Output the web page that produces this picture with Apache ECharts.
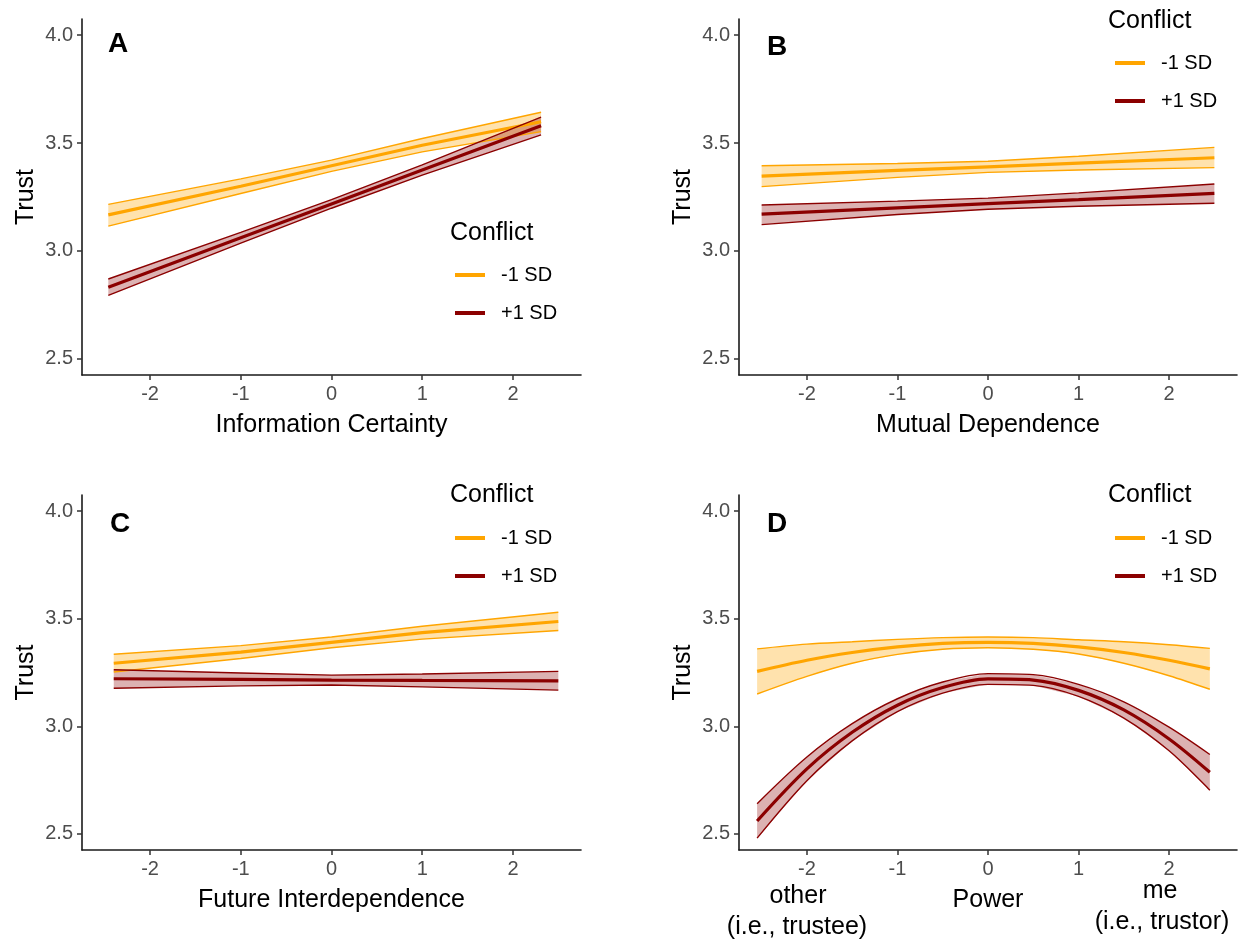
<!DOCTYPE html>
<html>
<head>
<meta charset="utf-8">
<script src="https://cdn.jsdelivr.net/npm/echarts@6/dist/echarts.min.js"></script>
<style>
  html, body { margin: 0; padding: 0; background: #fff; }
  #chart { width: 1239px; height: 941px; }
</style>
</head>
<body>
<div id="chart"></div>
<script>
const xTicks = [-2, -1, 0, 1, 2];
const yTicks = [2.5, 3.0, 3.5, 4.0];
const groups = ["-1 SD", "+1 SD"];

// A: Information Certainty
const xA = [-2.46, -1, 0, 1, 2.31];
const aMinusFit = [3.167, 3.300, 3.395, 3.490, 3.599];
const aMinusLo = [3.115, 3.266, 3.369, 3.459, 3.553];
const aMinusHi = [3.216, 3.334, 3.421, 3.521, 3.643];
const aPlusFit = [2.832, 3.061, 3.218, 3.375, 3.580];
const aPlusLo = [2.794, 3.036, 3.198, 3.351, 3.538];
const aPlusHi = [2.870, 3.086, 3.238, 3.399, 3.620];

// B: Mutual Dependence
const xB = [-2.5, -1, 0, 1, 2.5];
const bMinusFit = [3.347, 3.373, 3.390, 3.407, 3.432];
const bMinusLo = [3.298, 3.341, 3.364, 3.375, 3.386];
const bMinusHi = [3.395, 3.405, 3.416, 3.439, 3.480];
const bPlusFit = [3.171, 3.200, 3.219, 3.238, 3.267];
const bPlusLo = [3.122, 3.169, 3.193, 3.207, 3.221];
const bPlusHi = [3.213, 3.231, 3.245, 3.269, 3.310];

// C: Future Interdependence
const xC = [-2.4, -1, 0, 1, 2.5];
const cMinusFit = [3.293, 3.345, 3.390, 3.435, 3.487];
const cMinusLo = [3.252, 3.315, 3.365, 3.405, 3.445];
const cMinusHi = [3.335, 3.375, 3.415, 3.465, 3.530];
const cPlusFit = [3.221, 3.218, 3.215, 3.213, 3.211];
const cPlusLo = [3.177, 3.188, 3.192, 3.183, 3.168];
const cPlusHi = [3.263, 3.248, 3.238, 3.243, 3.255];

// D: Power
const xD = [-2.55, -2, -1.5, -1, -0.5, 0, 0.5, 1, 1.5, 2, 2.45];
const dMinusFit = [3.255, 3.307, 3.343, 3.369, 3.385, 3.390, 3.385, 3.369, 3.343, 3.307, 3.267];
const dMinusLo = [3.150, 3.232, 3.293, 3.334, 3.358, 3.365, 3.358, 3.336, 3.293, 3.235, 3.172];
const dMinusHi = [3.360, 3.382, 3.393, 3.404, 3.412, 3.415, 3.412, 3.402, 3.393, 3.379, 3.362];
const dPlusFit = [2.560, 2.802, 2.972, 3.098, 3.180, 3.220, 3.215, 3.167, 3.076, 2.941, 2.786];
const dPlusLo = [2.480, 2.747, 2.932, 3.068, 3.154, 3.195, 3.190, 3.139, 3.038, 2.886, 2.703];
const dPlusHi = [2.640, 2.857, 3.012, 3.128, 3.206, 3.245, 3.240, 3.195, 3.114, 2.996, 2.869];

const ORANGE = "#FFA500";
const RED = "#8B0000";
const FONT = '"Liberation Sans", Arial, sans-serif';

const panels = [
  { letter: "A", xName: "Information Certainty", x: xA, smooth: false,
    minus: { fit: aMinusFit, lo: aMinusLo, hi: aMinusHi },
    plus: { fit: aPlusFit, lo: aPlusLo, hi: aPlusHi } },
  { letter: "B", xName: "Mutual Dependence", x: xB, smooth: false,
    minus: { fit: bMinusFit, lo: bMinusLo, hi: bMinusHi },
    plus: { fit: bPlusFit, lo: bPlusLo, hi: bPlusHi } },
  { letter: "C", xName: "Future Interdependence", x: xC, smooth: false,
    minus: { fit: cMinusFit, lo: cMinusLo, hi: cMinusHi },
    plus: { fit: cPlusFit, lo: cPlusLo, hi: cPlusHi } },
  { letter: "D", xName: "Power", x: xD, smooth: 0.33,
    minus: { fit: dMinusFit, lo: dMinusLo, hi: dMinusHi },
    plus: { fit: dPlusFit, lo: dPlusLo, hi: dPlusHi } },
];

// layout of the 2x2 panels
const grids = [
  { left: 82, top: 19, width: 499, height: 356 },
  { left: 739, top: 19, width: 498, height: 356 },
  { left: 82, top: 495, width: 499, height: 355 },
  { left: 739, top: 495, width: 498, height: 355 },
];
const letterPos = [[108, 30], [767, 33], [110, 510], [767, 510]];
const conflictPos = [[450, 221], [1108, 9], [450, 483], [1108, 483]];
const legendPos = [[455, 265], [1115, 53], [455, 528], [1115, 528]];

function bandSeries(idx, xs, lo, hi, fill) {
  const data = xs.map((x, i) => [x, lo[i], hi[i]]);
  return {
    type: "custom",
    xAxisIndex: idx,
    yAxisIndex: idx,
    silent: true,
    data: data,
    encode: { x: 0, y: [1, 2] },
    renderItem: function (params, api) {
      if (params.dataIndex !== 0) return;
      const top = data.map((d) => api.coord([d[0], d[2]]));
      const bottom = data.map((d) => api.coord([d[0], d[1]])).reverse();
      return {
        type: "polygon",
        shape: { points: top.concat(bottom) },
        style: { fill: fill },
      };
    },
  };
}

function lineSeries(idx, name, xs, ys, color, width, smooth) {
  return {
    type: "line",
    name: name,
    xAxisIndex: idx,
    yAxisIndex: idx,
    data: xs.map((x, i) => [x, ys[i]]),
    symbol: "none",
    smooth: smooth,
    silent: true,
    itemStyle: { color: color },
    lineStyle: { color: color, width: width },
  };
}

const series = [];
panels.forEach(function (p, i) {
  [
    ["-1 SD", ORANGE, "rgba(255,165,0,0.32)", p.minus],
    ["+1 SD", RED, "rgba(139,0,0,0.3)", p.plus],
  ].forEach(function ([name, color, fill, s]) {
    series.push(bandSeries(i, p.x, s.lo, s.hi, fill));
    series.push(lineSeries(i, name + " lower", p.x, s.lo, color, 1.4, p.smooth));
    series.push(lineSeries(i, name + " upper", p.x, s.hi, color, 1.4, p.smooth));
    series.push(lineSeries(i, name, p.x, s.fit, color, 3.2, p.smooth));
  });
});

const axisLine = { onZero: false, lineStyle: { color: "#1a1a1a", width: 1.6 } };
const axisTick = { length: 5, lineStyle: { color: "#333", width: 1.5 } };
const tickText = { fontSize: 20, color: "#4D4D4D", fontFamily: FONT };

const xAxes = panels.map((p, i) => ({
  gridIndex: i,
  type: "value",
  min: -2.75,
  max: 2.75,
  name: p.xName,
  nameLocation: "middle",
  nameGap: 38,
  nameTextStyle: { fontSize: 25, color: "#000", fontFamily: FONT },
  axisLine: axisLine,
  axisTick: Object.assign({ customValues: xTicks }, axisTick),
  axisLabel: Object.assign({ customValues: xTicks, margin: 9 }, tickText),
  splitLine: { show: false },
}));

const yAxes = panels.map((p, i) => ({
  gridIndex: i,
  type: "value",
  min: 2.425,
  max: 4.075,
  name: "Trust",
  nameLocation: "middle",
  nameGap: 43,
  nameTextStyle: { fontSize: 25, color: "#000", fontFamily: FONT },
  axisLine: axisLine,
  axisTick: Object.assign({ customValues: yTicks }, axisTick),
  axisLabel: Object.assign(
    { customValues: yTicks, margin: 9, formatter: (v) => v.toFixed(1) },
    tickText
  ),
  splitLine: { show: false },
}));

const titles = [];
panels.forEach(function (p, i) {
  titles.push({
    text: p.letter,
    left: letterPos[i][0],
    top: letterPos[i][1],
    padding: 0,
    textStyle: { fontSize: 28, fontWeight: "bold", color: "#000", fontFamily: FONT },
  });
  titles.push({
    text: "Conflict",
    left: conflictPos[i][0],
    top: conflictPos[i][1],
    padding: 0,
    textStyle: { fontSize: 25, fontWeight: "normal", color: "#000", fontFamily: FONT },
  });
});

const legends = legendPos.map((pos) => ({
  data: groups,
  orient: "vertical",
  left: pos[0],
  top: pos[1],
  padding: 0,
  itemWidth: 30,
  itemHeight: 4,
  itemGap: 18,
  icon: "rect",
  selectedMode: false,
  itemStyle: { borderWidth: 0 },
  textStyle: { fontSize: 20, color: "#000", fontFamily: FONT, padding: [0, 0, 0, 11] },
}));

function label(text, x, y) {
  return {
    type: "text",
    x: x,
    y: y,
    silent: true,
    style: { text: text, fontSize: 25, fontFamily: FONT, fill: "#000", align: "center", verticalAlign: "middle" },
  };
}

const chart = echarts.init(document.getElementById("chart"));
chart.setOption({
  animation: false,
  backgroundColor: "#fff",
  textStyle: { fontFamily: FONT },
  title: titles,
  legend: legends,
  grid: grids,
  xAxis: xAxes,
  yAxis: yAxes,
  series: series,
  graphic: [
    label("other", 798, 896),
    label("(i.e., trustee)", 797, 927),
    label("me", 1160, 891),
    label("(i.e., trustor)", 1162, 922),
  ],
});
</script>
</body>
</html>
